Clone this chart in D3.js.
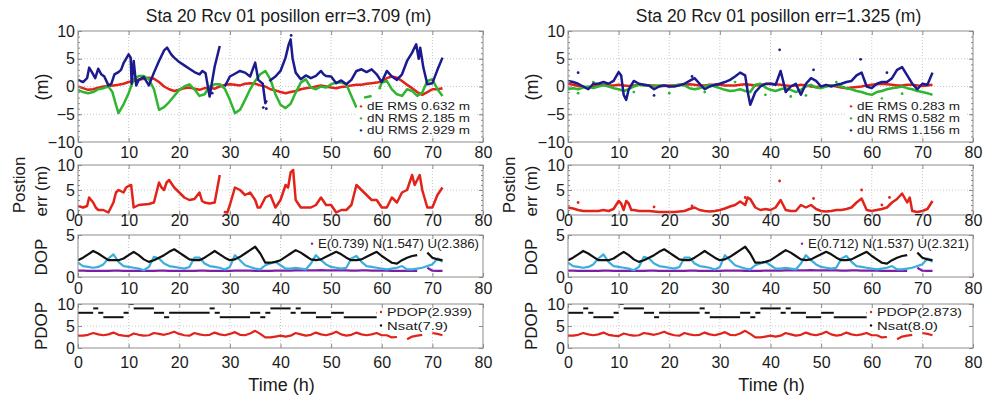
<!DOCTYPE html>
<html>
<head>
<meta charset="utf-8">
<script src="https://cdn.jsdelivr.net/npm/d3@7"></script>
<style>
  body { margin: 0; background: #fff; }
  text { font-family: "Liberation Sans", Arial, sans-serif; fill: #1a1a1a; }
</style>
</head>
<body>
<div id="chart"></div>
<script>
// ---- data ----
const hours = d3.range(0, 73);           // hourly epochs, 0..72 h
const xTicks = [0, 10, 20, 30, 40, 50, 60, 70, 80];

const titles = ["Sta 20 Rcv 01 posillon err=3.709 (m)", "Sta 20 Rcv 01 posillon err=1.325 (m)"];
const enuLegend = [
  ["dE RMS 0.632 m", "dN RMS 2.185 m", "dU RMS 2.929 m"],
  ["dE RMS 0.283 m", "dN RMS 0.582 m", "dU RMS 1.156 m"]
];
const dopLegend = ["E(0.739) N(1.547) U(2.386)", "E(0.712) N(1.537) U(2.321)"];
const pdopLegend = [["PDOP(2.939)", "Nsat(7.9)"], ["PDOP(2.873)", "Nsat(8.0)"]];

// left column: errors
const leftDE = [0,-0.3,-0.6,-0.5,-0.2,0,0.1,0.2,0.3,0.5,0.8,1.0,1.2,1.4,1.6,1.4,0.8,0,-0.5,-0.8,
  -0.6,-0.3,-0.2,-0.4,-0.6,-0.3,-0.2,-0.4,0,0.3,0.4,0.3,0.2,0.5,0.6,0.5,0.2,0,-0.5,-0.7,
  -1.0,-1.2,-1.0,-0.8,-0.5,-0.3,-0.2,0,0.2,0,-0.2,-0.3,-0.1,0,0.2,0.3,0.3,0.5,0.6,0.7,
  0.9,1.5,1.8,1.6,1.0,0.3,-0.3,-1.0,-1.5,-1.0,-0.5,-0.5,-0.3];
const leftDN = [[0,-0.6],[1,-1],[2,-1.2],[3,-1],[4,-0.5],[5,-0.3],[6,0],[6.8,-1],[7.4,-3],[8,-4.8],[9,-3.2],
  [10,-1.2],[11,1.3],[12,1.9],[13,1.9],[14,1.3],[15,-0.5],[16,-4.2],[17,-3.7],[18,-2.8],[19,-1.7],[20,-0.6],
  [21,0],[22,0.4],[23,-0.5],[24,-1.7],[25,-1.4],[26,0],[27,0.4],[28,0.4],[29,-0.4],[30,-2.4],[31,-4.8],
  [32,-4.2],[33,-2.4],[34,-0.5],[35,1],[36,2.2],[37,2.8],[38,1.3],[39,-1.4],[40,-3.3],[41,-3.9],[42,-3.1],
  [43,-1.1],[44,0.7],[45,1.3],[46,-0.2],[47,-0.5],[48,0],[49,-0.2],[50,0.4],[51,0.7],[52,0.7],[53,0.4],
  [54,-1.7],[55,-3.8],null,[56.5,-2],[58,-1.7],null,[59.5,-0.5],[60,0.7],[61,1],[62,-0.5],[63,-1.4],
  [64,-1.7],[65,-0.5],[66,-0.8],[67,-1.7],[68,-1.1],[69,1],[70,1.3],[71,-0.5],[72,-1.7]];
const leftDU = [[0,1.2],[1,0.8],[1.8,1.5],[2.2,3.4],[2.8,2.5],[3.4,1.5],[4,3.2],[4.6,2.2],[5.2,1.8],[6,0.2],
  [6.6,0.5],[7.2,2.2],[8,2.6],[8.5,3],[9,4.2],[10,5.8],[10.4,5.2],[10.6,0.5],[11,4.6],[11.5,0.2],[12,1.2],
  [13,1.7],[14,0.2],[15,2.5],[16,4.6],[17,6.5],[17.6,7],[18.4,5.8],[19,5.2],[20,4.4],[21,3.8],[22,3.2],
  [23,2.6],[24,2.2],[24.6,2.8],[25.2,2.4],[26,-1.8],[26.6,1.5],[27,3.6],[28,7.3],null,[29,0],[30,1.8],
  [31,2.3],[32,2.8],[33,2.5],[34,1.8],[35,4.3],[35.6,1.2],[36.5,0.5],[37,-3],[37.3,-2.5],null,[37.8,1],
  [39,1.8],[40,2.8],[41,5.2],[41.6,7.5],[42,8.5],[42.4,5],[43,2.5],[44,1.3],[45,2],[46,1.5],[47,1.9],
  [48,2.8],[48.5,2.2],[49,1.9],[50,1.8],[51,0.6],[52,1.1],[53,0.4],[54,1.2],[55,2.8],[56,3.1],[57,2.6],
  [58,3.1],[59,2.2],[60,0.8],[61,2.8],[62,1.8],[63,1.2],[64,2.2],[65,4.6],[66,6.1],[66.8,7.6],[67.3,5],
  [67.6,7],[68.2,3.5],[69,0.4],[70,0.6],[71,3],[72,5.2]];
const leftDUDots = [[42.1,9.2],[36.6,-3.8],[37.2,-4],[26.5,-1.2]];
const leftPos = [[0,1.8],[1,1.5],[1.8,1.8],[2.2,3.5],[3,2.5],[3.5,1.5],[4,1],[5,1],[6,0.5],[7,2.5],[7.5,4.5],
  [8,5],[9,4.5],[9.5,5.5],[10,5.8],[10.5,6],[11,1.5],[12,2],[13,2.1],[14,2.2],[15,2.5],[16,6.5],[16.5,5.5],
  [17,5],[17.5,6.5],[18,7],[19,5.5],[20,4.5],[21,3.5],[22,3],[23,3.2],[24,4.5],[24.5,2.8],[25,2.5],[26,2.3],
  [27,2.5],[28,8],null,[28.8,0.6],[29.5,0.5],[30,2],[31,5.5],[32,5],[33,4],[34,4.5],[35,3],[35.5,1.5],
  [36,1.5],[37,3.5],[38,4],[39,1.5],[40,3],[41,6],[41.5,5.5],[42,8.5],[42.5,9],[43,3],[44,1.5],[45,1.5],
  [46,1.5],[47,2],[48,3.5],[49,2],[50,2],[51,0.5],[52,1],[53,1],[54,2],[55,6],[56,5],[57,4],[58,3],[59,3],
  [60,1.5],[61,1.5],[62,3.5],[63,2.5],[64,4.5],[65,5],[66,8],[66.5,6],[67,7],[67.5,8],[68,5],[69,1.5],
  [70,1.5],[71,4],[72,5.5]];

// right column: errors
const rightDE = [0.5,0.3,0.1,0,-0.2,0,0.2,0.3,0.2,0.2,0.3,0.2,0.1,0.2,0.3,0.3,0.2,0.2,0.1,0.1,
  0.2,0.2,0.3,0.3,0.4,0.3,0.2,0.2,0.3,0.3,0.3,0.2,0.2,0.2,0.3,0.4,0.3,0.2,0.3,0.4,
  0.5,0.4,0.3,0.2,0.1,0.2,0.3,0.2,0,-0.1,0,0.1,0.2,0,-0.2,-0.3,-0.2,-0.1,0,0.2,
  0.3,0.4,0.5,0.4,0.3,0.2,0.2,0.3,0.3,0.2,0.1,0.2,0.3];
const rightDN = [-0.5,-0.3,-0.5,-0.2,0,-0.3,0,0.2,0,-0.3,-0.5,-0.8,-0.5,0,0.3,0.2,0.2,0,0.2,0.2,
  0,0.2,0.3,0.2,-0.3,-0.5,-0.3,0,0.3,0,-0.3,-0.6,-0.8,-0.7,-0.5,-0.8,-1.0,0.3,0.5,-0.2,
  -0.6,-0.8,-0.5,-0.3,-0.6,-1.0,-0.6,0,0.3,-0.2,-0.3,0,0.2,0.2,0,-0.3,-0.5,-0.8,-1.0,-1.3,
  -1.5,-1.0,-0.8,-0.5,-0.3,-0.2,0,-0.3,-0.5,-0.8,-1.0,-1.2,-1.5];
const rightDNDots = [[2,-1.2],[5,0.8],[13,-1.0],[20,-1.2],[27,-1],[33,0.8],[39,-1.5],[44,-1.8],[47,-1.6],
  [53,0.8],[62,-2.2],[66,-1.3]];
const rightDU = [[0,1],[1,0.8],[2,0.5],[3,0],[4,-0.5],[5,0.5],[6,0.5],[7,0.8],[8,0.5],[9,1],[10,2.6],
  [10.5,2],[11,-1.5],[11.5,-2.4],[12,-0.5],[13,1],[14,0.5],[15,0.3],[16,0.2],[17,-0.5],[18,0],[19,0.2],
  [20,0],[21,0],[22,0.2],[23,0.5],[24,1],[25,1.5],[26,0.5],[27,-0.5],[28,0],[29,0.3],[30,0.5],[31,0.8],
  [32,1.2],[33,1.8],[34,2.5],[35,2],[35.5,-1],[36,-3.3],[37,-1],[38,0],[39,0.5],[40,0.5],[41,0.3],
  [42,2.8],[42.5,1],[43,-1],[44,0],[45,0.5],[46,-1.5],[47,0.5],[48,1.5],[49,1],[50,0],[51,0.3],[52,0],
  [53,0.3],[54,0.5],[55,0.8],[56,1],[57,2],[58,2.5],[59,0],[60,-0.3],[61,0.5],[62,0.8],[63,0.8],[64,1.5],
  [65,3],[66,3.5],[67,2],[68,0.5],[69,-0.5],[70,0.5],[71,0.3],[72,2.5]];
const rightDUDots = [[41.8,6.6],[57.8,4.9],[48.5,3.0],[2,2.5],[63,2.5],[17,-1.6],[24.5,1.8]];
const rightPos = [[0,1.5],[1,1.3],[2,1.0],[3,0.8],[4,0.8],[5,0.8],[6,0.8],[7,1.0],[8,0.8],[9,1.2],[10,2.8],
  [10.5,2.3],[11,1.0],[11.5,2.8],[12,2.3],[12.5,1.0],[13,1.0],[14,0.8],[15,0.8],[16,0.8],[17,0.7],[18,0.6],
  [19,0.6],[20,0.6],[21,0.6],[22,0.7],[23,0.8],[24,1.2],[25,1.5],[26,1.0],[27,0.8],[28,0.7],[29,0.8],
  [30,1.0],[31,1.3],[32,1.7],[33,2.0],[34,2.7],[35,2.0],[35.5,3.5],[36,3.2],[37,1.5],[38,1.0],[39,1.2],
  [40,1.0],[41,1.5],[42,3.0],[42.5,2.0],[43,1.0],[44,0.8],[45,0.8],[46,2.0],[47,1.5],[48,2.0],[49,1.2],
  [50,0.8],[51,0.7],[52,0.8],[53,1.0],[54,1.0],[55,1.2],[56,1.5],[57,2.5],[58,3.3],[59,1.0],[60,0.8],
  [61,1.0],[62,1.2],[63,1.5],[64,2.5],[65,3.2],[66,4.3],[67,2.5],[67.5,3.5],[68,0.8],[69,0.6],[70,0.8],
  [71,1.2],[72,2.8]];
const rightPosDots = [[41.8,6.8],[58,5.0],[48.5,3.3],[35,3.5],[2,2.5],[24.5,1.8],[17,1.6],[62,2.0],[63.5,3.5]];

// DOP (same satellite geometry in both runs)
const dopE = [0.75,0.75,0.74,0.74,0.73,0.73,0.74,0.75,0.75,0.74,0.74,0.73,0.72,0.72,0.73,0.74,0.75,0.75,0.74,0.74,
  0.74,0.73,0.73,0.74,0.75,0.75,0.74,0.74,0.73,0.73,0.74,0.75,0.76,0.75,0.75,0.74,0.74,0.73,0.74,0.75,
  0.76,0.76,0.77,0.78,0.78,0.79,0.8,0.8,0.81,0.8,0.8,0.79,0.78,0.78,0.77,0.77,0.78,0.78,0.77,0.76,
  0.75,0.75,0.74,0.73,0.72,0.72,0.72,0.73,null,1.1,0.75,0.74,0.74];
const dopN = [1.7,1.3,1.2,1.1,1.2,1.5,2.2,2.7,1.8,1.3,1.2,1.1,1.0,0.8,1.2,2.4,2.2,1.6,1.3,1.2,
  1.1,1.0,1.2,2.3,2.3,1.6,1.3,1.2,1.1,0.9,1.2,2.6,2.0,1.4,1.2,1.0,0.9,1.4,1.6,1.8,
  1.4,1.0,1.0,1.1,1.0,0.9,1.6,2.6,2.0,1.5,1.2,1.1,1.0,1.1,2.2,2.5,1.8,1.3,1.2,1.1,
  1.0,0.9,1.0,1.1,1.3,0.9,0.9,1.0,1.1,1.3,1.5,2.2,1.8];
const dopU = [2.0,2.3,2.7,3.1,2.8,2.4,2.0,2.0,2.0,2.2,2.6,3.0,2.6,2.1,1.8,2.0,2.3,2.6,3.0,3.3,
  2.9,2.5,2.1,2.0,2.0,2.3,2.7,3.1,2.7,2.3,2.0,2.1,2.4,2.8,3.2,3.6,2.8,1.7,1.7,1.8,
  2.0,2.4,2.8,3.2,2.9,2.5,2.1,2.0,2.1,2.4,2.7,3.0,2.7,2.3,2.0,2.0,2.1,2.4,2.7,3.0,
  2.5,2.1,1.7,1.6,2.0,2.3,2.5,2.6,null,2.9,2.3,2.1,2.0];
const pdop = [2.8,2.8,3.0,3.4,3.1,2.9,3.1,3.5,3.0,2.8,2.7,3.3,3.0,2.8,2.9,3.4,3.2,3.0,3.3,3.7,
  3.2,2.9,2.8,3.4,3.1,2.9,3.0,3.5,3.1,2.9,3.2,3.6,3.0,2.9,3.3,3.9,3.2,2.4,2.4,2.6,
  2.8,2.6,2.8,3.4,3.1,2.8,3.0,3.5,3.1,2.9,3.2,3.7,3.1,2.8,3.0,3.5,3.1,2.9,3.1,3.4,
  2.9,2.9,2.4,2.5,null,2.0,2.6,2.8,3.0,null,3.4,3.2,2.9];
// number of satellites: [start hour, count]; each level holds until the next start
const nsat = [[0,8],[3,9],[4,8],[5,7],[9,8],[10,10],[11,9],[15,8],[17,7],[18,8],[26,9],[27,8],[28,7],
  [34,8],[36,7],[37,8],[38,9],[42,8],[43,9],[44,8],[47,7],[50,8],[52.5,7],[59,8],[61,8],[64,7],[66,10],
  [67.5,8],[70,7],[72,null]];

// ---- layout ----
const width = 986, height = 396;
const colors = { red: "#e2231a", green: "#2fb52f", blue: "#1b1b8f", cyan: "#3aaedc", purple: "#7d1fa3", black: "#111" };

const svg = d3.select("#chart").append("svg")
  .attr("width", width)
  .attr("height", height)
  .style("background-color", "#fff");

const panels = [
  { key: "enu", top: 31, bottom: 142, domain: [-10, 10], ticks: [-10, -5, 0, 5, 10], grid: [-5, 0, 5], minor: 1, pad: 5 },
  { key: "pos", top: 165, bottom: 215, domain: [0, 10], ticks: [0, 5, 10], grid: [5], minor: 1, pad: 0 },
  { key: "dop", top: 235, bottom: 277, domain: [0, 5], ticks: [0, 5], grid: [], minor: 0, pad: 6 },
  { key: "pdop", top: 304, bottom: 348, domain: [0, 10], ticks: [0, 5, 10], grid: [5], minor: 0, pad: 9 }
];

const columns = [
  { left: 78, right: 483, dE: leftDE, dN: leftDN, dNDots: [], dU: leftDU, dUDots: leftDUDots, pos: leftPos, posDots: [] },
  { left: 568, right: 973, dE: rightDE, dN: rightDN, dNDots: rightDNDots, dU: rightDU, dUDots: rightDUDots, pos: rightPos, posDots: rightPosDots }
];

const hourly = vals => vals.map((v, i) => (v === null ? null : [hours[i], v]));
const asPairs = s => (typeof s[0] === "number" ? hourly(s) : s);

columns.forEach((col, ci) => {
  const x = d3.scaleLinear().domain([0, 80]).range([col.left, col.right]);

  panels.forEach((p, pi) => {
    const y = d3.scaleLinear().domain(p.domain).range([p.bottom, p.top]);
    const g = svg.append("g");
    const clipId = `clip-${ci}-${pi}`;
    svg.append("clipPath").attr("id", clipId).append("rect")
      .attr("x", col.left).attr("y", p.top)
      .attr("width", col.right - col.left).attr("height", p.bottom - p.top);

    // grid
    g.selectAll(".vgrid").data(xTicks.slice(1, -1)).enter().append("line")
      .attr("x1", d => x(d)).attr("x2", d => x(d))
      .attr("y1", p.top).attr("y2", p.bottom)
      .attr("stroke", "#c8c8c8").attr("stroke-dasharray", "1,2");
    g.selectAll(".hgrid").data(p.grid).enter().append("line")
      .attr("x1", col.left).attr("x2", col.right)
      .attr("y1", d => y(d)).attr("y2", d => y(d))
      .attr("stroke", "#c8c8c8").attr("stroke-dasharray", "1,2");

    const plot = g.append("g").attr("clip-path", `url(#${clipId})`);
    const line = d3.line().defined(d => d !== null).x(d => x(d[0])).y(d => y(d[1]));
    const addLine = (data, color, w) => plot.append("path")
      .attr("d", line(asPairs(data)))
      .attr("fill", "none").attr("stroke", color)
      .attr("stroke-width", w || 2.5).attr("stroke-linejoin", "round");
    const addDots = (data, color) => plot.selectAll(null).data(data).enter().append("circle")
      .attr("cx", d => x(d[0])).attr("cy", d => y(d[1])).attr("r", 1.4).attr("fill", color);

    if (p.key === "enu") {
      addLine(col.dE, colors.red);
      addLine(col.dN, colors.green);
      addDots(col.dNDots, colors.green);
      addLine(col.dU, colors.blue);
      addDots(col.dUDots, colors.blue);
    } else if (p.key === "pos") {
      addLine(col.pos, colors.red);
      addDots(col.posDots, colors.red);
    } else if (p.key === "dop") {
      addLine(dopE, colors.purple, 2.2);
      addLine(dopN, colors.cyan, 2.2);
      addLine(dopU, colors.black, 2.2);
    } else {
      addLine(pdop, colors.red, 2.2);
      plot.selectAll(null).data(nsat.slice(0, -1)).enter().append("line")
        .filter(d => d[1] !== null)
        .attr("x1", d => x(d[0])).attr("x2", d => x(nsat[nsat.indexOf(d) + 1][0]))
        .attr("y1", d => y(d[1])).attr("y2", d => y(d[1]))
        .attr("stroke", colors.black).attr("stroke-width", 2);
    }

    // legends: white patch behind the text, no frame
    const legend = (items, lx, ly, step, fs, bg) => {
      const lg = g.append("g");
      if (bg) lg.append("rect").attr("x", lx - 8).attr("y", ly - fs)
        .attr("width", bg[0]).attr("height", bg[1]).attr("fill", "#fff");
      items.forEach((it, i) => {
        lg.append("circle").attr("cx", lx - 4).attr("cy", ly + i * step - fs * 0.35).attr("r", 1.2).attr("fill", it.color);
        const t = lg.append("text").attr("x", lx + 2).attr("y", ly + i * step)
          .style("font-size", fs + "px").text(it.label);
        if (it.len) t.attr("textLength", it.len).attr("lengthAdjust", "spacingAndGlyphs");
      });
    };
    if (p.key === "enu") {
      legend(enuLegend[ci].map((l, i) => ({ label: l, color: [colors.red, colors.green, colors.blue][i], len: 103 })),
        col.left + 287, 110, 12, 10.5, [120, 35]);
    } else if (p.key === "dop") {
      legend([{ label: dopLegend[ci], color: colors.purple, len: 161 }], col.left + 238, 248, 12, 12.5, null);
    } else if (p.key === "pdop") {
      legend([{ label: pdopLegend[ci][0], color: colors.red, len: 85 }, { label: pdopLegend[ci][1], color: colors.black, len: 61 }],
        col.left + 307, 316, 13.5, 11.5, [104, 26]);
    }

    // frame
    g.append("rect").attr("x", col.left).attr("y", p.top)
      .attr("width", col.right - col.left).attr("height", p.bottom - p.top)
      .attr("fill", "none").attr("stroke", "#8c8c8c");

    // minor ticks on y
    if (p.minor) {
      const minor = d3.range(p.domain[0], p.domain[1] + 0.001, p.minor);
      g.append("g").attr("transform", `translate(${col.left},0)`)
        .call(d3.axisLeft(y).tickValues(minor).tickSize(-2).tickFormat(""));
      g.append("g").attr("transform", `translate(${col.right},0)`)
        .call(d3.axisRight(y).tickValues(minor).tickSize(-2).tickFormat(""));
    }

    // axes
    const ax = g.append("g").attr("transform", `translate(0,${p.bottom})`)
      .call(d3.axisBottom(x).tickValues(xTicks).tickSize(-4).tickPadding(p.pad));
    g.append("g").attr("transform", `translate(0,${p.top})`)
      .call(d3.axisTop(x).tickValues(xTicks).tickSize(-4).tickFormat(""));
    const ay = g.append("g").attr("transform", `translate(${col.left},0)`)
      .call(d3.axisLeft(y).tickValues(p.ticks).tickFormat(d3.format("d")).tickSize(-4).tickPadding(3));
    g.append("g").attr("transform", `translate(${col.right},0)`)
      .call(d3.axisRight(y).tickValues(p.ticks).tickSize(-4).tickFormat(""));
    g.selectAll(".domain").remove();
    g.selectAll(".tick line").attr("stroke", "#8c8c8c");
    [ax, ay].forEach(a => a.selectAll("text")
      .style("font-size", "16px").style("font-family", '"Liberation Sans", Arial, sans-serif').attr("fill", "#1a1a1a"));
  });

  // titles and axis labels
  svg.append("text").attr("x", (col.left + col.right) / 2 + 8).attr("y", 22)
    .attr("text-anchor", "middle").style("font-size", "17.5px").text(titles[ci]);
  svg.append("text").attr("x", (col.left + col.right) / 2 + 1).attr("y", 391)
    .attr("text-anchor", "middle").style("font-size", "18px").text("Time (h)");

  const yLabel = (txt, cx, cy, fs) => svg.append("text")
    .attr("transform", `translate(${cx},${cy}) rotate(-90)`)
    .attr("text-anchor", "middle").attr("dominant-baseline", "central")
    .style("font-size", (fs || 17) + "px").text(txt);
  yLabel("(m)", col.left - 36, 87, 18);
  yLabel("Postion", col.left - 59, 185);
  yLabel("err (m)", col.left - 37, 191);
  yLabel("DOP", col.left - 37, 257);
  yLabel("PDOP", col.left - 37, 326);
});
</script>
</body>
</html>
